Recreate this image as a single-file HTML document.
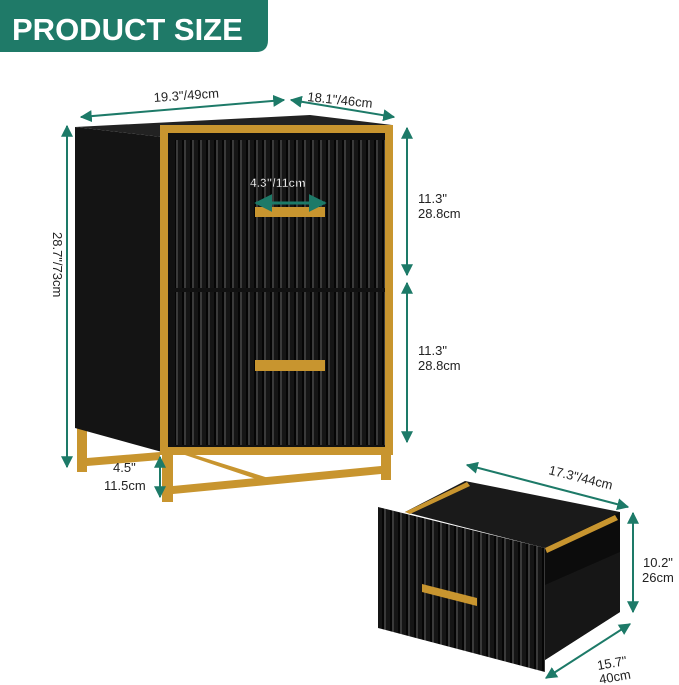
<!DOCTYPE html>
<html><head><meta charset="utf-8"><style>
html,body{margin:0;padding:0;background:#fff;}
svg{display:block;font-family:"Liberation Sans",sans-serif;}
</style></head><body>
<svg width="679" height="685" viewBox="0 0 679 685" xmlns="http://www.w3.org/2000/svg">
<defs>
<marker id="a" viewBox="0 0 10 10" refX="9" refY="5" markerWidth="6" markerHeight="6" orient="auto-start-reverse"><path d="M0,0 L10,5 L0,10 z" fill="#1d7a68"/></marker>
<pattern id="flute" width="8" height="10" patternUnits="userSpaceOnUse"><rect width="8" height="10" fill="#151515"/><rect x="0" width="2" height="10" fill="#3a3a3a"/><rect x="6" width="2" height="10" fill="#050505"/></pattern>
</defs>
<path d="M0,0 H268 V40 Q268,52 256,52 H0 Z" fill="#1f7a68"/>
<text x="12" y="40" font-size="31" font-weight="bold" fill="#fff">PRODUCT SIZE</text>

<rect x="77" y="425" width="10" height="47" fill="#c8952f"/>
<polygon points="87,458 160,452 160,460 87,466" fill="#c8952f"/>
<polygon points="75,127 162,137 162,452 75,428" fill="#141414"/>
<polygon points="75,127 162,137 392,125 310,115" fill="#222"/>
<rect x="160" y="125" width="233" height="330" fill="#c8952f"/>
<rect x="168" y="133" width="217" height="314" fill="#111"/>
<rect x="175" y="140" width="210" height="148" fill="url(#flute)"/>
<rect x="175" y="292" width="210" height="153" fill="url(#flute)"/>
<rect x="255" y="207" width="70" height="10" fill="#c8952f"/>
<rect x="255" y="360" width="70" height="11" fill="#c8952f"/>
<rect x="162" y="450" width="11" height="52" fill="#c8952f"/>
<rect x="381" y="450" width="10" height="30" fill="#c8952f"/>
<polygon points="173,486 381,466 381,474 173,494" fill="#c8952f"/>
<polygon points="185,455 195,455 275,480 265,482" fill="#c8952f"/>

<g stroke="#1d7a68" stroke-width="2" fill="none">
<line x1="81" y1="117" x2="284" y2="100" marker-start="url(#a)" marker-end="url(#a)"/>
<line x1="291" y1="100" x2="394" y2="117" marker-start="url(#a)" marker-end="url(#a)"/>
<line x1="67" y1="126" x2="67" y2="467" marker-start="url(#a)" marker-end="url(#a)"/>
<line x1="407" y1="128" x2="407" y2="275" marker-start="url(#a)" marker-end="url(#a)"/>
<line x1="407" y1="283" x2="407" y2="442" marker-start="url(#a)" marker-end="url(#a)"/>
<line x1="160" y1="457" x2="160" y2="497" marker-start="url(#a)" marker-end="url(#a)"/>
<line x1="256" y1="203" x2="325" y2="203" stroke-width="3" marker-start="url(#a)" marker-end="url(#a)"/>
</g>
<g font-size="13" fill="#222">
<text x="154" y="102" transform="rotate(-4 154 102)">19.3"/49cm</text>
<text x="307" y="101" transform="rotate(6 307 101)">18.1"/46cm</text>
<text x="0" y="0" transform="translate(53,232) rotate(90)">28.7"/73cm</text>
<text x="418" y="203">11.3"</text><text x="418" y="218">28.8cm</text>
<text x="418" y="355">11.3"</text><text x="418" y="370">28.8cm</text>
<text x="113" y="472">4.5"</text><text x="104" y="490">11.5cm</text>
<text x="250" y="187" font-size="12" font-weight="bold" fill="#fff" stroke="#222" stroke-width="0.6">4.3"/11cm</text>
</g>

<polygon points="465,481 620,512 620,612 545,660 545,548 405,512" fill="#1a1a1a"/>
<polygon points="545,548 620,512 620,552 545,585" fill="#0c0c0c"/>
<polygon points="545,585 620,552 620,612 545,660" fill="#161616"/>
<polygon points="405,512 467,482 470,486 410,514" fill="#c8952f"/>
<polygon points="545,548 615,515 618,520 547,553" fill="#c8952f"/>
<polygon points="378,507 545,548 545,672 378,628" fill="url(#flute)"/>
<polygon points="422,584 477,598 477,606 422,592" fill="#c8952f"/>

<g stroke="#1d7a68" stroke-width="2" fill="none">
<line x1="467" y1="465" x2="628" y2="507" marker-start="url(#a)" marker-end="url(#a)"/>
<line x1="633" y1="513" x2="633" y2="612" marker-start="url(#a)" marker-end="url(#a)"/>
<line x1="630" y1="624" x2="546" y2="678" marker-start="url(#a)" marker-end="url(#a)"/>
</g>
<g font-size="13" fill="#222">
<text x="548" y="474" transform="rotate(14 548 474)">17.3"/44cm</text>
<text x="643" y="567">10.2"</text><text x="642" y="582">26cm</text>
<text x="598" y="670" transform="rotate(-10 598 670)">15.7"</text>
<text x="600" y="684" transform="rotate(-10 600 684)">40cm</text>
</g>
</svg>
</body></html>
